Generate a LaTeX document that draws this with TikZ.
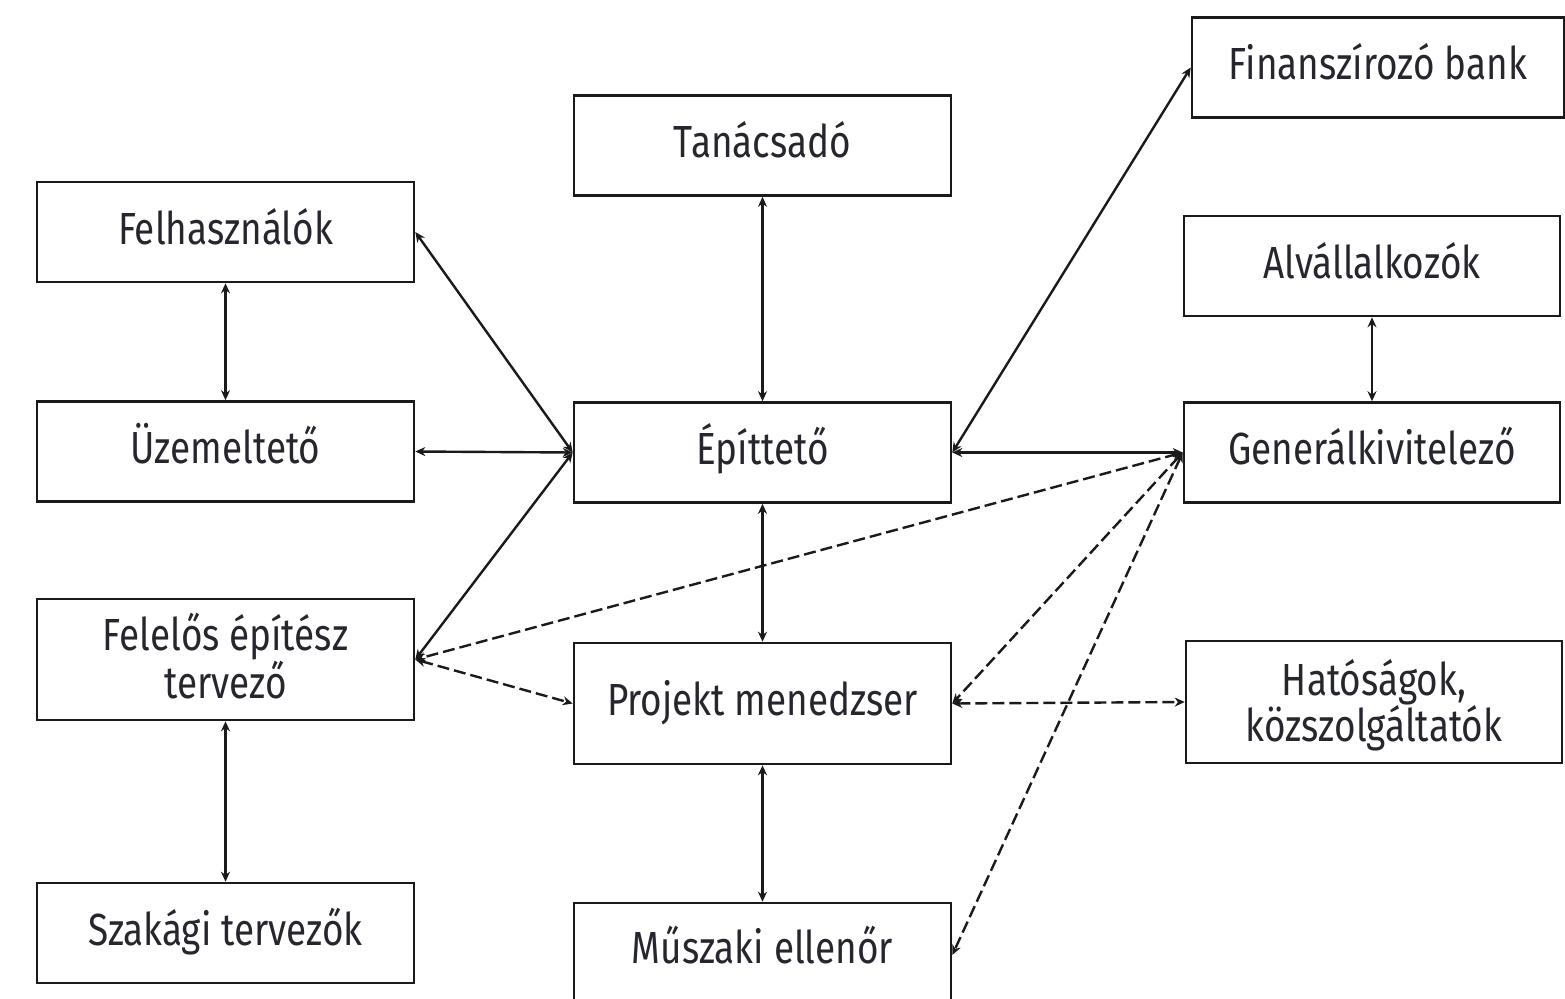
\documentclass[tikz,border=0pt]{standalone}
\usepackage{fontspec}
\setmainfont[FakeStretch=0.82]{Fira Sans}
\usepackage{tikz}
\usetikzlibrary{arrows.meta}
\definecolor{lcol}{HTML}{1A1A1A}
\definecolor{tcol}{HTML}{26262E}
\tikzset{
  box/.style={draw=lcol, line width=2.6pt, minimum width=377pt, minimum height=100pt,
    inner sep=0pt, align=center, text=tcol, text height=34pt, text depth=10pt,
    font=\fontsize{45}{46}\selectfont},
  box2/.style={box, minimum height=121pt, text height=88pt},
  link/.style={<->, lcol, line width=2.4pt},
  dlink/.style={link, dash pattern=on 12pt off 5pt}
}

\begin{document}
\begin{tikzpicture}[x=1pt, y=-1pt, >={Stealth[length=10pt, width=9pt]}]

\useasboundingbox (0,0) rectangle (1565,998);

\node[box] (felh) at (225.5,232) {Felhasználók};
\node[box] (uzem) at (225.5,451.5) {Üzemeltető};
\node[box2] (fel) at (225.5,659.5) {Felelős építész\\tervező};
\node[box] (szak) at (225.5,933) {Szakági tervezők};

\node[box] (tan) at (762.5,145.5) {Tanácsadó};
\node[box] (epit) at (762.5,452.5) {Építtető};
\node[box, minimum height=121pt] (proj) at (762.5,703.5) {Projekt menedzser};
\node[box, minimum height=104pt, text depth=18pt] (musz) at (762.5,955) {Műszaki ellenőr};

\node[box, minimum width=372pt] (bank) at (1378,67.5) {Finanszírozó bank};
\node[box, minimum width=376pt] (alv) at (1372,266) {Alvállalkozók};
\node[box, minimum width=376pt] (gen) at (1372,452.5) {Generálkivitelező};
\node[box2, minimum width=376pt, minimum height=122pt] (hat) at (1374,702) {Hatóságok,\\közszolgáltatók};

\draw[link] (felh.south) -- (uzem.north);
\draw[link] (fel.south) -- (szak.north);
\draw[link] (epit.west) -- (felh.east);
\draw[link] (epit.west) -- (uzem.east);
\draw[link] (epit.west) -- (fel.east);
\draw[link] (tan.south) -- (epit.north);
\draw[link] (epit.south) -- (proj.north);
\draw[link] (proj.south) -- (musz.north);
\draw[link] (epit.east) -- (bank.west);
\draw[link] (alv.south) -- (gen.north);
\draw[link] (gen.west) -- (epit.east);

\draw[dlink] (gen.west) -- (fel.east);
\draw[dlink] (fel.east) -- (proj.west);
\draw[dlink] (gen.west) -- (proj.east);
\draw[dlink] (gen.west) -- (musz.east);
\draw[dlink] (proj.east) -- (hat.west);

\end{tikzpicture}
\end{document}
